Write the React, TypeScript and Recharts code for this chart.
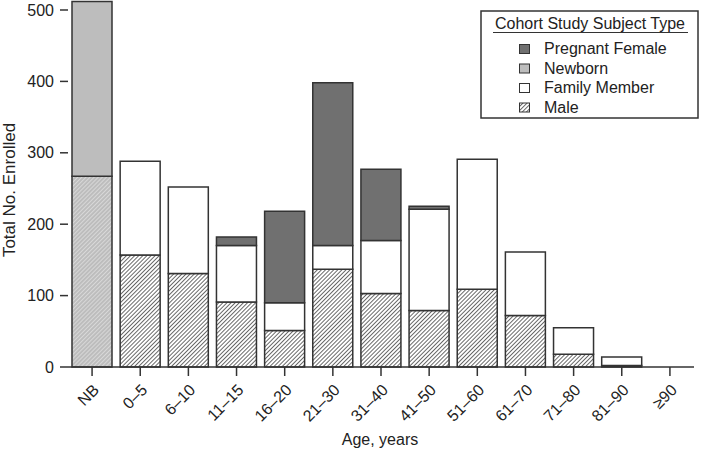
import React from 'react';
import { BarChart, Bar, XAxis, YAxis, Legend, Cell } from 'recharts';

const ageGroups = ['NB', '0–5', '6–10', '11–15', '16–20', '21–30', '31–40', '41–50', '51–60', '61–70', '71–80', '81–90', '≥90'];
const male = [267, 157, 131, 91, 51, 137, 103, 79, 109, 72, 18, 2, 0];
const newborn = [245, 0, 0, 0, 0, 0, 0, 0, 0, 0, 0, 0, 0];
const familyMember = [0, 131, 121, 79, 39, 33, 74, 142, 182, 89, 37, 12, 0];
const pregnantFemale = [0, 0, 0, 12, 128, 228, 100, 4, 0, 0, 0, 0, 0];
const yTicks = [0, 100, 200, 300, 400, 500];

const data = ageGroups.map((age, i) => ({
  age,
  male: male[i],
  newborn: newborn[i],
  family: familyMember[i],
  pregnant: pregnantFemale[i],
}));

const FONT = '"Liberation Sans", Arial, sans-serif';
const TEXT = '#222';
const EDGE = '#333';
const DARK = '#707070';
const LIGHT = '#bdbdbd';

const legendItems = [
  { label: 'Pregnant Female', fill: DARK },
  { label: 'Newborn', fill: LIGHT },
  { label: 'Family Member', fill: '#fff' },
  { label: 'Male', fill: 'url(#hatch)' },
];

const AgeTick = (props: any) => {
  const { x, y, payload } = props;
  const tx = x + 8;
  const ty = y + 13;
  return (
    <text x={tx} y={ty} transform={`rotate(-45, ${tx}, ${ty})`} textAnchor="end" fontSize={16} fill={TEXT} fontFamily={FONT}>
      {payload.value}
    </text>
  );
};

// svg sits at (480, 10) in the page
const CohortLegend = () => (
  <svg width={220} height={110} style={{ display: 'block' }}>
    <rect x={1} y={1} width={217} height={107} fill="#fff" stroke={EDGE} strokeWidth={1.5} />
    <text x={110} y={19} textAnchor="middle" fontSize={16} fill={TEXT} fontFamily={FONT}>
      Cohort Study Subject Type
    </text>
    <line x1={13} x2={208} y1={22.5} y2={22.5} stroke={EDGE} strokeWidth={1.2} />
    {legendItems.map((item, i) => (
      <g key={item.label}>
        <rect x={39.5} y={34.5 + i * 19.5} width={10} height={9} fill={item.fill} stroke={EDGE} strokeWidth={1} />
        <text x={64} y={44 + i * 19.5} fontSize={16} fill={TEXT} fontFamily={FONT}>
          {item.label}
        </text>
      </g>
    ))}
  </svg>
);

export default function App() {
  return (
    <div style={{ position: 'absolute', left: 0, top: 0, width: 701, height: 451, background: '#fff' }}>
      <BarChart
        width={701}
        height={451}
        data={data}
        margin={{ top: 1, right: 7, bottom: 24, left: 0 }}
        style={{ fontFamily: FONT }}
      >
        <defs>
          <pattern id="hatch" patternUnits="userSpaceOnUse" width={2.9} height={2.9} patternTransform="rotate(45)">
            <rect width={2.9} height={2.9} fill="#fff" />
            <line x1={0} y1={0} x2={0} y2={2.9} stroke="#1a1a1a" strokeWidth={1.3} />
          </pattern>
          <pattern id="hatchGray" patternUnits="userSpaceOnUse" width={2.9} height={2.9} patternTransform="rotate(45)">
            <rect width={2.9} height={2.9} fill={LIGHT} />
            <line x1={0} y1={0} x2={0} y2={2.9} stroke="#f2f2f2" strokeWidth={1} />
          </pattern>
        </defs>
        <XAxis
          dataKey="age"
          height={60}
          interval={0}
          tickSize={9}
          tickMargin={2}
          tick={<AgeTick />}
          axisLine={{ stroke: EDGE, strokeWidth: 1.5 }}
          tickLine={{ stroke: EDGE, strokeWidth: 1.5 }}
          label={() => (
            <text x={380} y={445} textAnchor="middle" fontSize={16} fill={TEXT} fontFamily={FONT}>
              Age, years
            </text>
          )}
        />
        <YAxis
          width={68}
          domain={[0, 512.6]}
          ticks={yTicks}
          tickSize={8}
          tickMargin={6}
          axisLine={false}
          tickLine={{ stroke: EDGE, strokeWidth: 1.5 }}
          tick={{ fontSize: 16, fill: TEXT, fontFamily: FONT }}
          label={() => (
            <text x={15} y={190} transform="rotate(-90, 15, 190)" textAnchor="middle" fontSize={17} fill={TEXT} fontFamily={FONT}>
              Total No. Enrolled
            </text>
          )}
        />
        <Legend
          layout="vertical"
          align="center"
          verticalAlign="middle"
          wrapperStyle={{ left: 480, top: 10, right: 'auto', bottom: 'auto', width: 220, height: 110 }}
          content={() => <CohortLegend />}
        />
        <Bar dataKey="male" name="Male" stackId="a" barSize={40} fill="url(#hatch)" stroke={EDGE} strokeWidth={1.5} isAnimationActive={false}>
          {data.map((d, i) => (
            <Cell key={d.age} fill={i === 0 ? 'url(#hatchGray)' : 'url(#hatch)'} />
          ))}
        </Bar>
        <Bar dataKey="newborn" name="Newborn" stackId="a" barSize={40} fill={LIGHT} stroke={EDGE} strokeWidth={1.5} isAnimationActive={false} />
        <Bar dataKey="family" name="Family Member" stackId="a" barSize={40} fill="#fff" stroke={EDGE} strokeWidth={1.5} isAnimationActive={false} />
        <Bar dataKey="pregnant" name="Pregnant Female" stackId="a" barSize={40} fill={DARK} stroke={EDGE} strokeWidth={1.5} isAnimationActive={false} />
      </BarChart>
    </div>
  );
}
